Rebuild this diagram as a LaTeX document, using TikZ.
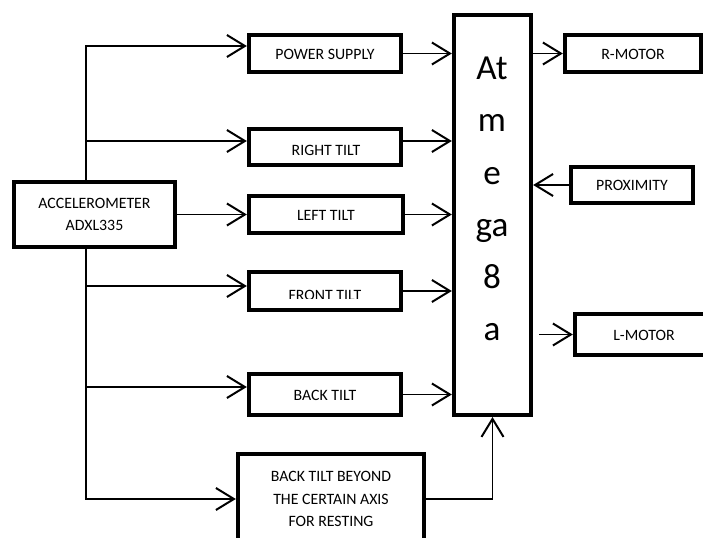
\documentclass[tikz,border=0pt]{standalone}
\usepackage{fontspec}
\setmainfont{Carlito}
\usetikzlibrary{arrows.meta}

\begin{document}
\begin{tikzpicture}[
            box/.style={
                rectangle,
                draw=black,
                line width=0.13cm,
                fill=white,
                minimum width=4.56cm,
                minimum height=1.11cm,
                inner sep=0pt,
                align=center,
                font=\fontsize{13.5}{19.3}\selectfont
            },
            oneline/.style={text height=1em, text depth=0pt},
            boxtext/.style={
                inner sep=0pt,
                font=\fontsize{13.5}{19.3}\selectfont
            },
            chiptext/.style={
                inner sep=0pt,
                align=center,
                font=\fontsize{30}{44.6}\selectfont
            },
            arrow/.style={-{Straight Barb[length=5.4mm,width=6.6mm]}, line width=1.7pt}
        ]
        \useasboundingbox (0,0) rectangle (21.09,-16.14);
        
        % Sensor on the left
        \node[box, minimum width=4.83cm, minimum height=1.95cm] (accel) at (2.835,-6.435) {ACCELEROMETER\\ADXL335};
        \coordinate (trunk) at (2.58,0);
        
        % Tilt boxes
        \node[box, oneline] (ps) at (9.75,-1.605) {POWER SUPPLY};
        \node[box, minimum height=1.08cm] (rt) at (9.75,-4.41) {};
        \node[box, oneline, minimum width=4.62cm] (lt) at (9.78,-6.435) {LEFT TILT};
        \node[box, minimum height=1.14cm] (ft) at (9.75,-8.73) {};
        \node[box, oneline, minimum height=1.23cm] (bt) at (9.75,-11.835) {BACK TILT};
        \node[box, minimum width=5.58cm, minimum height=2.7cm] (beyond) at (9.93,-14.97) {BACK TILT BEYOND\\THE CERTAIN AXIS\\FOR RESTING};
        
        % Cut-off labels
        \begin{scope}
            \clip (7.5,-4.0) rectangle (12,-4.665);
            \node[boxtext, anchor=base] (rtlabel) at (9.78,-4.68) {RIGHT TILT};
        \end{scope}
        \begin{scope}
            \clip (7.5,-8.3) rectangle (12,-8.95);
            \node[boxtext, anchor=base] (ftlabel) at (9.75,-9.02) {FRONT TILT};
        \end{scope}
        
        % Controller
        \node[box, minimum width=2.31cm, minimum height=12cm] (mega) at (14.775,-6.445) {};
        \node[chiptext] (megatxt) at (14.76,-5.97) {At\\m\\e\\ga\\8\\a};
        
        % Right side boxes
        \node[box, oneline, minimum width=4.08cm] (rmotor) at (18.99,-1.605) {R-MOTOR};
        \node[box, oneline, minimum width=3.66cm, minimum height=1.08cm] (prox) at (18.96,-5.55) {PROXIMITY};
        \node[box, oneline, minimum width=4.14cm, minimum height=1.23cm] (lmotor) at (19.32,-10.035) {L-MOTOR};
        
        % Trunk and branches
        \draw[arrow] (accel.north -| trunk) |- ([yshift=2.25mm]ps.west);
        \draw[arrow] ([yshift=1.8mm]rt.west -| trunk) -- ([yshift=1.8mm]rt.west);
        \draw[arrow] (accel.east) -- (lt.west);
        \draw[arrow] ([yshift=1.5mm]ft.west -| trunk) -- ([yshift=1.5mm]ft.west);
        \draw[arrow] ([yshift=2.25mm]bt.west -| trunk) -- ([yshift=2.25mm]bt.west);
        \draw[arrow] (accel.south -| trunk) |- (beyond.west);
        
        % Into the controller
        \draw[arrow] (ps.east) -- (ps.east -| mega.west);
        \draw[arrow] ([yshift=1.8mm]rt.east) -- ([yshift=1.8mm]rt.east -| mega.west);
        \draw[arrow] (lt.east) -- (lt.east -| mega.west);
        \draw[arrow] (ft.east) -- (ft.east -| mega.west);
        \draw[arrow] (bt.east) -- (bt.east -| mega.west);
        \draw[arrow] (beyond.east) -| (mega.south);
        \draw[arrow] (prox.west) -- (prox.west -| mega.east);
        
        % Out of the controller
        \draw[arrow] (rmotor.west -| mega.east) -- (rmotor.west);
        \draw[arrow] ([xshift=1.8mm]lmotor.west -| mega.east) -- (lmotor.west);
        
        \end{tikzpicture}
\end{document}
